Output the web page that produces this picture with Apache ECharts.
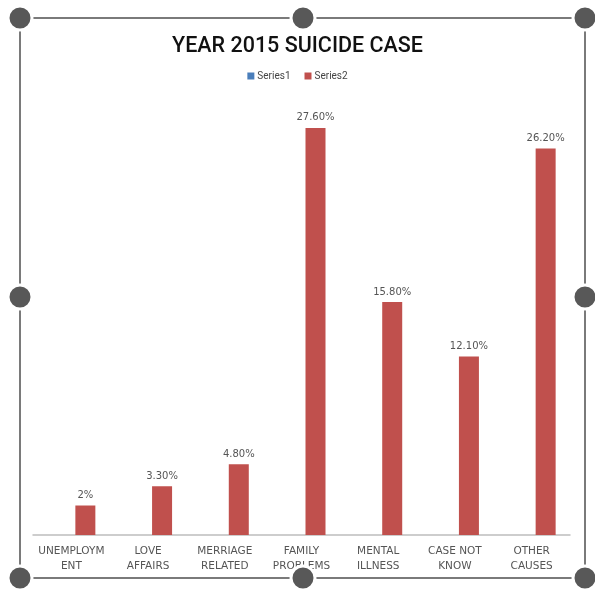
<!DOCTYPE html>
<html>
<head>
<meta charset="utf-8">
<script src="https://cdn.jsdelivr.net/npm/echarts@6/dist/echarts.min.js"></script>
<style>
  html, body { margin: 0; padding: 0; background: #fff; }
  #chart { width: 595px; height: 589px; }
</style>
</head>
<body>
<div id="chart"></div>
<script>
const categories = ['UNEMPLOYM\nENT', 'LOVE\nAFFAIRS', 'MERRIAGE\nRELATED', 'FAMILY\nPROBLEMS',
  'MENTAL\nILLNESS', 'CASE NOT\nKNOW', 'OTHER\nCAUSES'];
const series1 = [null, null, null, null, null, null, null];
const series2 = [2, 3.3, 4.8, 27.6, 15.8, 12.1, 26.2];
const valueLabels = ['2%', '3.30%', '4.80%', '27.60%', '15.80%', '12.10%', '26.20%'];

// selection frame round the chart (handles like an editor)
const frameColor = '#7a7a7a';
const handleColor = '#585858';
const L = 20, R = 585, T = 18, B = 578;
const handles = [[L, T], [303, T], [R, T], [L, 297], [R, 297], [L, B], [303, B], [R, B]];

const mychart = echarts.init(document.getElementById('chart'));
const option = {
    animation: false,
    title: {
        text: 'YEAR 2015 SUICIDE CASE',
        left: 'center',
        top: 31,
        textStyle: { fontFamily: 'Roboto', fontSize: 21.5, fontWeight: 500, color: '#111' }
    },
    legend: {
        top: 66,
        left: 'center',
        itemWidth: 7,
        itemHeight: 7,
        itemGap: 14,
        icon: 'rect',
        textStyle: { fontFamily: 'Roboto', fontSize: 10, color: '#444', padding: [0, 0, 0, -2] },
        data: ['Series1', 'Series2']
    },
    grid: { left: 33, right: 25, top: 92.5, bottom: 54 },
    xAxis: {
        type: 'category',
        data: categories,
        axisLine: { lineStyle: { color: '#bdbdbd', width: 1.5 } },
        axisTick: { show: false },
        axisLabel: {
            interval: 0,
            margin: 9,
            fontFamily: 'DejaVu Sans',
            fontSize: 10.5,
            lineHeight: 15,
            color: '#555'
        }
    },
    yAxis: {
        type: 'value',
        min: 0,
        max: 30,
        show: false,
        splitLine: { show: false }
    },
    series: [{
        name: 'Series1',
        type: 'bar',
        data: series1,
        barWidth: 20,
        barGap: '40%',
        itemStyle: { color: '#4a7ebb' }
    }, {
        name: 'Series2',
        type: 'bar',
        data: series2,
        barWidth: 20,
        itemStyle: { color: '#c0504d' },
        label: {
            show: true,
            position: 'top',
            distance: 5,
            fontFamily: 'DejaVu Sans',
            fontSize: 10,
            color: '#555',
            formatter: (p) => valueLabels[p.dataIndex]
        }
    }],
    graphic: [
        { type: 'polyline', shape: { points: [[L, T], [R, T], [R, B], [L, B], [L, T]] },
          style: { stroke: frameColor, lineWidth: 2, fill: null }, z: 10 }
    ].concat(handles.map(([x, y]) => ({
        type: 'circle', shape: { cx: x, cy: y, r: 12 },
        style: { fill: handleColor, stroke: '#fff', lineWidth: 3 }, z: 11
    })))
};
mychart.setOption(option);
</script>
</body>
</html>
